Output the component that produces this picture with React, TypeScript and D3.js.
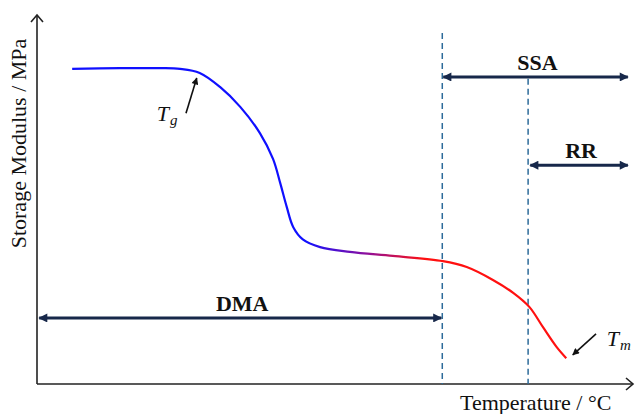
import React from "react";
import * as d3 from "d3";

// Curve data (arbitrary units: temperature 0-100, modulus 0-100)
const temperature = [5.9, 13.9, 20.6, 24.0, 27.3, 30.7, 34.1, 37.4, 39.6, 40.8, 41.9, 43.0, 44.6, 47.5, 52.5, 59.7, 68.1, 72.1, 76.5, 79.9, 82.6, 84.9, 87.2, 88.8];
const modulus = [85.4, 85.6, 85.6, 85.4, 84.3, 80.5, 75.1, 68.0, 61.0, 54.5, 48.0, 42.5, 39.2, 37.1, 35.8, 34.7, 33.3, 31.7, 28.2, 24.7, 20.9, 15.4, 10.0, 7.0];

// Dashed boundaries
const boundaryT = [68.0, 82.4];
const boundaryTop = [95.1, 82.7];

// Technique ranges
const rangeLabels = ["SSA", "RR", "DMA"];
const rangeFrom = [68.0, 82.6, 0.2];
const rangeTo = [99.3, 99.3, 68.0];
const rangeLevel = [83.2, 59.3, 17.9];

// Annotation arrows (Tg, Tm)
const annotLabels = ["T", "T"];
const annotSubs = ["g", "m"];
const annotFromT = [25.0, 93.8];
const annotFromM = [73.4, 13.6];
const annotToT = [26.8, 89.9];
const annotToM = [82.9, 7.9];
const annotTextT = [20.1, 95.6];
const annotTextM = [71.3, 10.3];

const xLabel = "Temperature / °C";
const yLabel = "Storage Modulus / MPa";

const W = 636;
const H = 414;

export default function App() {
  const x = d3.scaleLinear().domain([0, 100]).range([37, 633]);
  const y = d3.scaleLinear().domain([0, 100]).range([384, 15]);

  const pts = temperature.map((t, i) => [t, modulus[i]] as [number, number]);
  const line = d3
    .line<[number, number]>()
    .x((d) => x(d[0]))
    .y((d) => y(d[1]))
    .curve(d3.curveCatmullRom.alpha(0.5));

  const navy = "#17284a";
  const dashCol = "#2d6b9a";
  const serif = "Liberation Serif, DejaVu Serif, serif";
  const fontStyle = { fontFamily: serif };

  const x0 = x(0);
  const y0 = y(0);
  const xEnd = x(100);
  const yEnd = y(100);

  return (
    <svg
      width={W}
      height={H}
      style={{ position: "absolute", left: 0, top: 0, display: "block", background: "#fff" }}
    >
      <defs>
        <linearGradient id="curveGrad" gradientUnits="userSpaceOnUse" x1={x(45)} y1={0} x2={x(65)} y2={0}>
          <stop offset="0" stopColor="#1010ff" />
          <stop offset="0.5" stopColor="#8a10a0" />
          <stop offset="1" stopColor="#ff1010" />
        </linearGradient>
        <marker id="headNavy" viewBox="0 0 10 10" refX="9" refY="5" markerWidth="10" markerHeight="9" markerUnits="userSpaceOnUse" orient="auto-start-reverse">
          <path d="M0,0 L10,5 L0,10 z" fill={navy} />
        </marker>
        <marker id="headBlack" viewBox="0 0 10 10" refX="9" refY="5" markerWidth="8" markerHeight="7" markerUnits="userSpaceOnUse" orient="auto">
          <path d="M0,0 L10,5 L0,10 z" fill="#111" />
        </marker>
      </defs>

      {/* axes */}
      <line x1={x0} y1={y0} x2={xEnd} y2={y0} stroke="#222" strokeWidth={1.6} />
      <line x1={x0} y1={y0} x2={x0} y2={yEnd} stroke="#222" strokeWidth={1.6} />
      <polyline points={`${xEnd - 7},${y0 - 6} ${xEnd},${y0} ${xEnd - 7},${y0 + 6}`} fill="none" stroke="#222" strokeWidth={1.6} />
      <polyline points={`${x0 - 6},${yEnd + 7} ${x0},${yEnd} ${x0 + 6},${yEnd + 7}`} fill="none" stroke="#222" strokeWidth={1.6} />

      {/* dashed boundaries */}
      {boundaryT.map((t, i) => (
        <line key={i} x1={x(t)} x2={x(t)} y1={y(boundaryTop[i])} y2={y0} stroke={dashCol} strokeWidth={1.5} strokeDasharray="6,4" />
      ))}

      {/* curve */}
      <path d={line(pts) || ""} fill="none" stroke="url(#curveGrad)" strokeWidth={2.2} />

      {/* ranges */}
      {rangeLabels.map((lab, i) => {
        const xa = x(rangeFrom[i]);
        const xb = x(rangeTo[i]);
        const yy = y(rangeLevel[i]);
        return (
          <g key={lab}>
            <line x1={xa + 1} x2={xb - 1} y1={yy} y2={yy} stroke={navy} strokeWidth={3} markerStart="url(#headNavy)" markerEnd="url(#headNavy)" />
            <text x={(xa + xb) / 2 + 2} y={yy - 7} textAnchor="middle" style={fontStyle} fontWeight="bold" fontSize={22} fill="#111">
              {lab}
            </text>
          </g>
        );
      })}

      {/* annotations */}
      {annotLabels.map((lab, i) => (
        <g key={i}>
          <line x1={x(annotFromT[i])} y1={y(annotFromM[i])} x2={x(annotToT[i])} y2={y(annotToM[i])} stroke="#111" strokeWidth={1.6} markerEnd="url(#headBlack)" />
          <text x={x(annotTextT[i])} y={y(annotTextM[i])} style={fontStyle} fontStyle="italic" fontSize={22} fill="#111">
            {lab}
            <tspan fontSize={15} dy={4} dx={1}>{annotSubs[i]}</tspan>
          </text>
        </g>
      ))}

      {/* axis labels */}
      <text x={460} y={410} style={fontStyle} fontSize={22} fill="#111">
        {xLabel}
      </text>
      <text transform={`translate(26,${(38 + 249) / 2}) rotate(-90)`} textAnchor="middle" style={fontStyle} fontSize={22} fill="#111">
        {yLabel}
      </text>
    </svg>
  );
}
